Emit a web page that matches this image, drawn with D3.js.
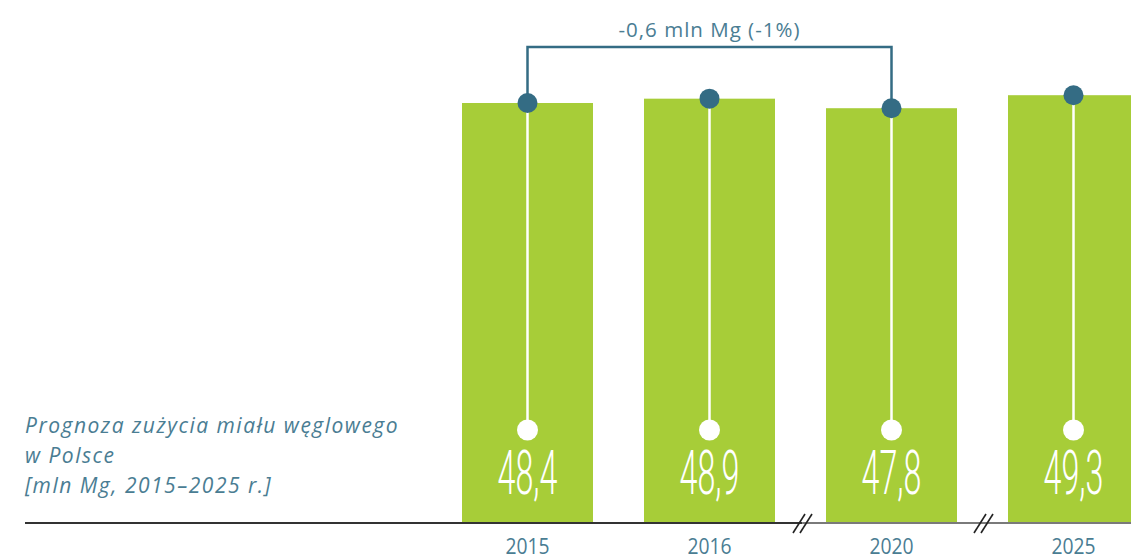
<!DOCTYPE html>
<html><head><meta charset="utf-8">
<script src="https://cdn.jsdelivr.net/npm/d3@7"></script>
<style>html,body{margin:0;padding:0;background:#fff;overflow:hidden}</style>
</head><body>
<svg id="c" width="1131" height="558"></svg>
<script>
const years = ["2015","2016","2020","2025"];
const values = [48.4, 48.9, 47.8, 49.3];
const valueLabels = ["48,4","48,9","47,8","49,3"];
const titleLines = ["Prognoza zużycia miału węglowego","w Polsce","[mln Mg, 2015–2025 r.]"];
const changeLabel = "-0,6 mln Mg (-1%)";
const changeFrom = "2015", changeTo = "2020";
const breakAfter = ["2016","2020"];

const svg = d3.select("#c");
const green = "#a7cd38", teal = "#346c84", textBlue = "#4a7d93";
const baseY = 523;
const barW = 131;

const xc = d3.scalePoint().domain(years).range([527.5, 1073.5]);
const y = d3.scaleLinear().domain([0, 49.3]).range([baseY, 95.2]);
const cx = d => xc(d);

// bars
svg.selectAll("rect.bar").data(years).join("rect")
  .attr("x", d => cx(d) - barW/2).attr("width", barW)
  .attr("y", (d,i) => y(values[i])).attr("height", (d,i) => baseY - y(values[i]))
  .attr("fill", green);

// white stems
svg.selectAll("line.stem").data(years).join("line")
  .attr("x1", cx).attr("x2", cx)
  .attr("y1", (d,i) => y(values[i])).attr("y2", 430)
  .attr("stroke", "#fff").attr("stroke-width", 2.5);
svg.selectAll("circle.wdot").data(years).join("circle")
  .attr("cx", cx).attr("cy", 430).attr("r", 10.5).attr("fill", "#fff");

// value labels
svg.selectAll("text.val").data(years).join("text")
  .attr("transform", d => `translate(${cx(d)},${494}) scale(0.52,1)`)
  .attr("text-anchor", "middle")
  .attr("font-family", "Roboto, 'Liberation Sans', sans-serif")
  .attr("font-weight", 300)
  .attr("font-size", 62).attr("fill", "#fff")
  .text((d,i) => valueLabels[i]);

// bracket
const i0 = years.indexOf(changeFrom), i1 = years.indexOf(changeTo);
const bTop = 47;
svg.append("path")
  .attr("d", `M${cx(changeFrom)},${y(values[i0])} V${bTop} H${cx(changeTo)} V${y(values[i1])}`)
  .attr("fill", "none").attr("stroke", teal).attr("stroke-width", 2.5);
svg.append("text")
  .attr("x", (cx(changeFrom)+cx(changeTo))/2).attr("y", 37)
  .attr("text-anchor", "middle")
  .attr("font-family", "'Open Sans', sans-serif").attr("font-size", 20.5)
  .attr("letter-spacing", 1)
  .attr("fill", textBlue).text(changeLabel);

// top dots
svg.selectAll("circle.tdot").data(years).join("circle")
  .attr("cx", cx).attr("cy", (d,i) => y(values[i])).attr("r", 10).attr("fill", teal);

// baseline
const step = xc.step();
const brk1 = cx(breakAfter[0]) + step/2 + 2;
const brk2 = cx(breakAfter[1]) + step/2 + 1;
svg.append("line").attr("x1", 25).attr("x2", brk1).attr("y1", baseY).attr("y2", baseY)
  .attr("stroke", "#333").attr("stroke-width", 2);
svg.append("line").attr("x1", brk1).attr("x2", 1131).attr("y1", baseY).attr("y2", baseY)
  .attr("stroke", "#7a7a7a").attr("stroke-width", 2);
[brk1, brk2].forEach(b => {
  [-3.5, 3.5].forEach(o => {
    svg.append("line")
      .attr("x1", b + o - 6).attr("y1", baseY + 10)
      .attr("x2", b + o + 6).attr("y2", baseY - 9)
      .attr("stroke", "#222").attr("stroke-width", 1.6);
  });
});

// year labels
svg.selectAll("text.year").data(years).join("text")
  .attr("transform", d => `translate(${cx(d)},${554}) scale(0.92,1)`)
  .attr("text-anchor", "middle")
  .attr("font-family", "'Open Sans', sans-serif").attr("font-size", 21)
  .attr("fill", textBlue).text(d => d);

// title
svg.selectAll("text.title").data(titleLines).join("text")
  .attr("x", 25).attr("y", (d,i) => 433 + i*30)
  .attr("font-family", "'Open Sans', sans-serif").attr("font-style", "italic")
  .attr("font-size", 21).attr("letter-spacing", 1.5)
  .attr("fill", textBlue).text(d => d);
</script>
</body></html>
